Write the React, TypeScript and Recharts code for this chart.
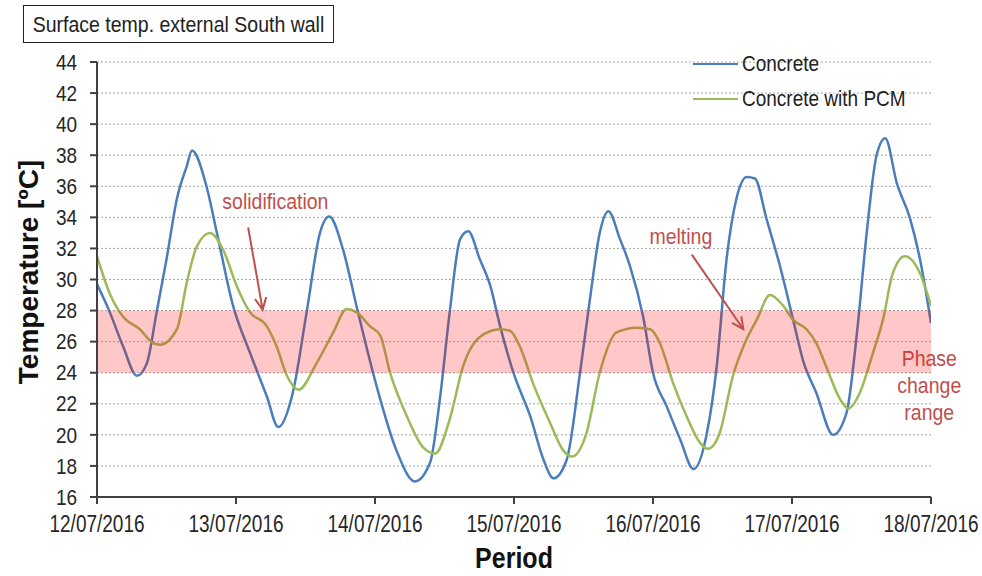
import React from "react";
import {
  LineChart,
  Line,
  XAxis,
  YAxis,
  CartesianGrid,
  ReferenceArea,
  ReferenceLine,
  ReferenceDot,
} from "recharts";

// Hours since 12/07/2016 00:00.
const concreteHours = [
  0, 2.2, 4.5, 6.9, 8.6, 10.3, 12.0, 13.8, 15.5, 16.4, 18.9, 20.7, 23.5, 26.4,
  29.3, 31.3, 33.8, 36.2, 38.5, 40.1, 42.5, 44.8, 48.3, 51.7, 54.9, 57.5, 59.2,
  60.9, 62.7, 64.1, 66.1, 67.9, 69.6, 71.9, 74.8, 77.1, 78.8, 81.1, 83.4, 85.1,
  86.8, 88.3, 90.3, 92.0, 94.3, 96.0, 98.4, 100.7, 103.0, 105.3, 107.0, 108.7,
  110.4, 112.2, 113.6, 115.6, 117.9, 120.2, 121.9, 124.2, 127.1, 129.4, 131.2,
  132.9, 134.6, 136.1, 138.1, 140.4, 142.1, 144.0,
];
const concreteTemps = [
  29.7, 27.9, 25.7, 23.8, 24.6, 27.9, 31.3, 35.2, 37.3, 38.3, 36.0, 33.0, 28.3,
  25.3, 22.5, 20.5, 22.7, 27.9, 33.0, 34.05, 31.9, 28.3, 23.1, 19.0, 17.0, 18.2,
  22.3, 27.9, 32.6, 33.1, 31.3, 29.6, 27.0, 24.0, 21.2, 18.4, 17.2, 18.4, 24.0,
  28.7, 33.0, 34.4, 32.6, 30.9, 27.6, 24.0, 21.8, 19.7, 17.8, 20.1, 24.4, 31.3,
  35.2, 36.6, 36.5, 33.9, 30.9, 27.4, 24.8, 22.7, 20.0, 21.4, 26.5, 33.0, 38.0,
  39.1, 36.2, 33.9, 31.3, 27.2,
];

const pcmHours = [
  0, 2.2, 4.5, 7.4, 9.7, 10.9, 13.8, 15.5, 17.2, 19.5, 21.8, 24.1, 26.4, 29.3,
  31.0, 32.8, 34.8, 37.9, 40.8, 43.1, 44.8, 47.1, 48.9, 50.6, 53.5, 56.3, 58.4,
  60.9, 63.2, 66.1, 69.6, 71.3, 73.0, 75.3, 78.2, 80.5, 82.0, 84.5, 86.8, 89.7,
  93.2, 95.5, 97.2, 99.5, 101.8, 104.1, 105.5, 107.5, 109.8, 112.1, 113.9,
  116.2, 118.5, 120.2, 122.5, 124.2, 125.9, 128.3, 129.7, 131.7, 134.0, 135.7,
  137.4, 139.5, 142.1, 144.0,
];
const pcmTemps = [
  31.5, 29.1, 27.6, 26.8, 25.9, 25.8, 26.8, 29.8, 32.1, 33.0, 31.9, 29.6, 27.9,
  27.0, 25.7, 23.8, 22.9, 24.6, 26.6, 28.1, 27.9, 27.0, 26.4, 24.0, 21.2, 19.2,
  18.8, 21.0, 24.4, 26.3, 26.8, 26.7, 25.7, 23.3, 20.8, 19.0, 18.6, 20.1, 24.0,
  26.6, 26.9, 26.8, 25.9, 23.3, 21.2, 19.5, 19.1, 20.1, 23.8, 26.1, 27.4, 29.0,
  28.3, 27.4, 26.8, 25.9, 24.4, 22.3, 21.7, 22.7, 25.3, 27.4, 30.4, 31.5, 30.4,
  28.3,
];

const dateLabels = [
  "12/07/2016",
  "13/07/2016",
  "14/07/2016",
  "15/07/2016",
  "16/07/2016",
  "17/07/2016",
  "18/07/2016",
];
const xTicks = [0, 24, 48, 72, 96, 120, 144];
const yTicks = [16, 18, 20, 22, 24, 26, 28, 30, 32, 34, 36, 38, 40, 42, 44];

// phase change band (°C)
const PHASE_LOW = 24;
const PHASE_HIGH = 28;

const BLUE = "#4A7EBB";
const GREEN = "#9BBB59";
const RED = "#C0504D";
const AXIS = "#404040";
const INK = "#262626";
const FONT = '"Liberation Sans", Arial, sans-serif';

const concreteData = concreteHours.map((h, i) => ({ h, t: concreteTemps[i] }));
const pcmData = pcmHours.map((h, i) => ({ h, t: pcmTemps[i] }));

// the source figure's text is tall and narrow, so stretch glyphs vertically
function XTick(props: any) {
  const { x, y, payload } = props;
  return (
    <g transform={`translate(${x},${y}) scale(1,1.25)`}>
      <text x={0} y={0} dy="0.71em" textAnchor="middle" fill={INK} fontSize={19} fontFamily={FONT}>
        {dateLabels[xTicks.indexOf(payload.value)]}
      </text>
    </g>
  );
}

function YTick(props: any) {
  const { x, y, payload } = props;
  return (
    <g transform={`translate(${x},${y}) scale(1,1.12)`}>
      <text x={0} y={0} dy="0.36em" textAnchor="end" fill={INK} fontSize={19} fontFamily={FONT}>
        {payload.value}
      </text>
    </g>
  );
}

function Arrow(props: any) {
  const { x1, y1, x2, y2 } = props;
  const a = Math.atan2(y2 - y1, x2 - x1);
  const L = 13;
  const w = 0.45;
  const p1 = `${x2 - L * Math.cos(a - w)},${y2 - L * Math.sin(a - w)}`;
  const p2 = `${x2 - L * Math.cos(a + w)},${y2 - L * Math.sin(a + w)}`;
  return (
    <g>
      <line x1={x1} y1={y1} x2={x2} y2={y2} stroke={RED} strokeWidth={2} />
      <polyline
        points={`${p1} ${x2},${y2} ${p2}`}
        fill="none"
        stroke={RED}
        strokeWidth={2}
      />
    </g>
  );
}

const noteText = (lines: string[]) => (p: any) => (
  <g transform={`translate(${p.cx},${p.cy}) scale(1,1.15)`}>
    <text x={0} y={0} textAnchor="middle" fill={RED} fontSize={19.5} fontFamily={FONT}>
      {lines.map((s, i) => (
        <tspan key={i} x={0} dy={i === 0 ? `${0.35 - (lines.length - 1) * 0.6}em` : "1.2em"}>
          {s}
        </tspan>
      ))}
    </text>
  </g>
);

export default function App() {
  return (
    <div
      style={{
        position: "absolute",
        left: 0,
        top: 0,
        width: 982,
        height: 576,
        background: "#fff",
        fontFamily: FONT,
      }}
    >
      <LineChart
        width={982}
        height={576}
        margin={{ top: 62, right: 51, bottom: 49, left: 37 }}
      >
        <CartesianGrid
          vertical={false}
          stroke="#A6A6A6"
          strokeDasharray="2 2"
        />
        <XAxis
          type="number"
          dataKey="h"
          domain={[0, 144]}
          ticks={xTicks}
          height={30}
          stroke={AXIS}
          strokeWidth={2}
          tickSize={7}
          tickMargin={11}
          tick={<XTick />}
          allowDataOverflow
        />
        <YAxis
          type="number"
          domain={[16, 44]}
          ticks={yTicks}
          width={60}
          stroke={AXIS}
          strokeWidth={2}
          tickSize={7}
          tickMargin={13}
          tick={<YTick />}
          allowDataOverflow
        />
        <Line
          data={concreteData}
          dataKey="t"
          type="monotone"
          stroke={BLUE}
          strokeWidth={2.5}
          dot={false}
          isAnimationActive={false}
        />
        <Line
          data={pcmData}
          dataKey="t"
          type="monotone"
          stroke={GREEN}
          strokeWidth={2.5}
          dot={false}
          isAnimationActive={false}
        />
        <ReferenceArea
          y1={PHASE_LOW}
          y2={PHASE_HIGH}
          fill="#FF0000"
          fillOpacity={0.22}
          stroke="none"
          zIndex={1000}
        />
        <ReferenceLine
          segment={[
            { x: 26.1, y: 33.35 },
            { x: 28.6, y: 28.06 },
          ]}
          shape={Arrow}
          zIndex={1100}
        />
        <ReferenceLine
          segment={[
            { x: 102.7, y: 31.6 },
            { x: 111.6, y: 26.8 },
          ]}
          shape={Arrow}
          zIndex={1100}
        />
        <ReferenceDot x={30.8} y={35.05} r={0} shape={noteText(["solidification"])} />
        <ReferenceDot x={100.8} y={32.8} r={0} shape={noteText(["melting"])} />
        <ReferenceDot
          x={143.7}
          y={23.2}
          r={0}
          shape={noteText(["Phase", "change", "range"])}
          ifOverflow="visible"
        />
      </LineChart>

      {/* title box */}
      <div
        style={{
          position: "absolute",
          left: 23,
          top: 5,
          width: 311,
          height: 38,
          boxSizing: "border-box",
          border: "1.5px solid #222",
          color: "#222",
          display: "flex",
          alignItems: "center",
          justifyContent: "center",
        }}
      >
        <span style={{ fontSize: 19.5, transform: "scaleY(1.15)", whiteSpace: "nowrap" }}>
          Surface temp. external South wall
        </span>
      </div>

      {/* legend */}
      {[
        { label: "Concrete", color: BLUE, y: 64 },
        { label: "Concrete with PCM", color: GREEN, y: 99 },
      ].map((l) => (
        <div
          key={l.label}
          style={{
            position: "absolute",
            left: 693,
            top: l.y - 14,
            height: 28,
            display: "flex",
            alignItems: "center",
            color: "#222",
          }}
        >
          <span
            style={{
              display: "inline-block",
              width: 45,
              height: 2.5,
              background: l.color,
              marginRight: 4,
            }}
          />
          <span style={{ fontSize: 19, transform: "scaleY(1.15)", whiteSpace: "nowrap" }}>
            {l.label}
          </span>
        </div>
      ))}

      {/* axis titles */}
      <div
        style={{
          position: "absolute",
          left: 29,
          top: 272,
          transform: "translate(-50%, -50%) rotate(-90deg)",
          whiteSpace: "nowrap",
          fontSize: 28,
          fontWeight: "bold",
          color: "#111",
        }}
      >
        Temperature [ºC]
      </div>
      <div
        style={{
          position: "absolute",
          left: 514,
          top: 558,
          transform: "translate(-50%, -50%) scaleY(1.15)",
          fontSize: 25,
          fontWeight: "bold",
          color: "#111",
        }}
      >
        Period
      </div>
    </div>
  );
}
